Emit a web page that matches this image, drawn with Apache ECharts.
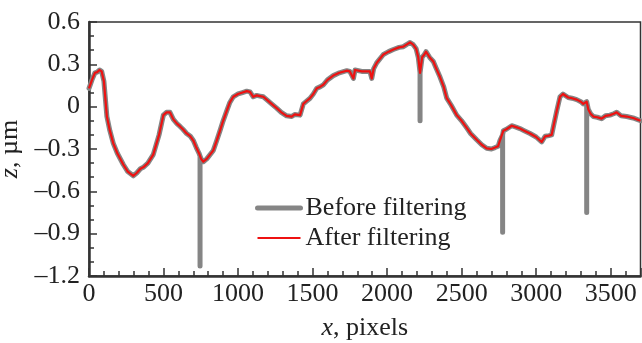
<!DOCTYPE html>
<html>
<head>
<meta charset="utf-8">
<script src="https://cdn.jsdelivr.net/npm/echarts@6/dist/echarts.min.js"></script>
<style>
  html, body { margin: 0; padding: 0; background: #fff; }
  #chart { width: 642px; height: 343px; }
</style>
</head>
<body>
<div id="chart"></div>
<script>
// profile: x in pixels, z in µm
const xs = [0, 20, 40, 55, 70, 85, 100, 120, 140, 163, 190, 230, 260, 297, 320, 345, 364, 395, 431, 470,
  499, 520, 543, 566, 590, 611, 630, 655, 680, 700, 720, 738, 752, 767, 790, 834, 857, 879, 900, 924,
  945, 968, 1000, 1030, 1058, 1080, 1102, 1125, 1147, 1170, 1192, 1225, 1259, 1290, 1326, 1360, 1380, 1393, 1416, 1438,
  1460, 1483, 1505, 1528, 1550, 1572, 1600, 1639, 1680, 1729, 1750, 1774, 1785, 1796, 1830, 1863, 1885, 1897, 1910, 1930,
  1975, 2010, 2042, 2080, 2109, 2130, 2154, 2175, 2195, 2209, 2221, 2235, 2250, 2261, 2285, 2310, 2330, 2355, 2380, 2400,
  2430, 2467, 2500, 2534, 2560, 2601, 2635, 2668, 2700, 2724, 2745, 2757, 2768, 2780, 2800, 2836, 2865, 2891, 2920, 2959,
  3000, 3037, 3060, 3085, 3104, 3120, 3138, 3160, 3180, 3193, 3215, 3240, 3272, 3300, 3316, 3339, 3350, 3365, 3384, 3410,
  3439, 3465, 3495, 3520, 3540, 3570, 3607, 3650, 3700];
const afterZ = [0.13, 0.19, 0.24, 0.245, 0.26, 0.25, 0.18, -0.07, -0.17, -0.26, -0.33, -0.41, -0.46, -0.49, -0.47, -0.44, -0.43, -0.40, -0.34, -0.2,
  -0.06, -0.04, -0.04, -0.09, -0.12, -0.14, -0.16, -0.19, -0.21, -0.24, -0.29, -0.33, -0.37, -0.39, -0.37, -0.31, -0.24, -0.17, -0.1, -0.03,
  0.03, 0.07, 0.09, 0.1, 0.11, 0.105, 0.07, 0.08, 0.075, 0.07, 0.05, 0.02, -0.01, -0.04, -0.065, -0.07, -0.055, -0.065, -0.06, 0.02,
  0.04, 0.06, 0.09, 0.13, 0.14, 0.155, 0.19, 0.22, 0.24, 0.255, 0.25, 0.2, 0.26, 0.27, 0.25, 0.25, 0.25, 0.2, 0.27, 0.31,
  0.37, 0.39, 0.405, 0.42, 0.425, 0.44, 0.455, 0.44, 0.41, 0.35, 0.24, 0.35, 0.37, 0.39, 0.35, 0.32, 0.27, 0.21, 0.14, 0.06,
  0.01, -0.06, -0.1, -0.15, -0.19, -0.235, -0.27, -0.295, -0.3, -0.29, -0.28, -0.24, -0.24, -0.17, -0.16, -0.135, -0.145, -0.155, -0.17, -0.19,
  -0.215, -0.25, -0.21, -0.205, -0.2, -0.12, -0.03, 0.07, 0.09, 0.095, 0.065, 0.06, 0.05, 0.035, 0.02, 0.035, -0.02, -0.05, -0.07, -0.075,
  -0.085, -0.065, -0.06, -0.05, -0.04, -0.065, -0.07, -0.08, -0.1];
// narrow outliers present only in the unfiltered profile
const spikeX = [745, 2221, 2775, 3339];
const spikeZ = [-1.13, -0.1, -0.89, -0.75];

const xTicks = [0, 500, 1000, 1500, 2000, 2500, 3000, 3500];
const zTicks = [-1.2, -0.9, -0.6, -0.3, 0, 0.3, 0.6];

const afterData = xs.map((x, i) => [x, afterZ[i]]);

// unfiltered = filtered curve with the spikes dropped in
const beforeData = [];
let k = 0;
for (let i = 0; i < xs.length; i++) {
  while (k < spikeX.length && spikeX[k] <= xs[i]) {
    let top = afterZ[i];
    if (i > 0 && spikeX[k] < xs[i]) {
      const t = (spikeX[k] - xs[i - 1]) / (xs[i] - xs[i - 1]);
      top = afterZ[i - 1] + t * (afterZ[i] - afterZ[i - 1]);
    }
    beforeData.push([spikeX[k], top], [spikeX[k], spikeZ[k]], [spikeX[k], top]);
    k++;
  }
  beforeData.push([xs[i], afterZ[i]]);
}

const font = "'Liberation Serif', 'Times New Roman', Times, serif";
const fs = 26;
const ink = '#222';
const grey = '#858585';
const red = '#ee1111';

const chart = echarts.init(document.getElementById('chart'));
chart.setOption({
  animation: false,
  grid: {
    left: 89, right: 1.5, top: 22, bottom: 67,
    outerBoundsMode: 'none', containLabel: false,
    show: true, borderColor: '#333', borderWidth: 1.5, backgroundColor: 'transparent'
  },
  legend: {
    orient: 'vertical',
    left: 250, top: 189,
    itemWidth: 43, itemHeight: 14, itemGap: 2,
    itemStyle: { opacity: 0 },
    textStyle: { fontFamily: font, fontSize: fs, color: ink, lineHeight: 28 },
    data: [
      { name: 'Before filtering', lineStyle: { color: grey, width: 5 } },
      { name: 'After filtering', lineStyle: { color: red, width: 2.2 } }
    ]
  },
  xAxis: {
    type: 'value',
    min: 0, max: 3700, interval: 500,
    name: '{i|x}, pixels',
    nameLocation: 'middle', nameGap: 39,
    nameTextStyle: {
      fontFamily: font, fontSize: fs, color: ink,
      rich: { i: { fontFamily: font, fontSize: fs, fontStyle: 'italic', color: ink } }
    },
    axisLine: { onZero: false, lineStyle: { color: '#333', width: 2.5 } },
    axisTick: { inside: true, length: 8, lineStyle: { color: '#333', width: 1.5 } },
    minorTick: { show: true, splitNumber: 5, length: 5, lineStyle: { color: '#333', width: 1.5 } },
    splitLine: { show: false },
    axisLabel: {
      fontFamily: font, fontSize: fs, color: ink, margin: 5, showMaxLabel: false,
      formatter: v => (xTicks.includes(v) ? String(v) : '')
    }
  },
  yAxis: {
    type: 'value',
    min: -1.2, max: 0.6, interval: 0.3,
    name: '{i|z}, µm',
    nameLocation: 'middle', nameGap: 57,
    nameTextStyle: {
      fontFamily: font, fontSize: fs, color: ink,
      rich: { i: { fontFamily: font, fontSize: fs, fontStyle: 'italic', color: ink } }
    },
    axisLine: { show: true, onZero: false, lineStyle: { color: '#333', width: 2.5 } },
    axisTick: { inside: true, length: 8, lineStyle: { color: '#333', width: 1.5 } },
    minorTick: { show: true, splitNumber: 3, length: 5, lineStyle: { color: '#333', width: 1.5 } },
    splitLine: { show: false },
    axisLabel: {
      fontFamily: font, fontSize: fs, color: ink, margin: 9,
      formatter: v => {
        const z = zTicks.find(t => Math.abs(t - v) < 1e-6);
        if (z === undefined) return '';
        if (z === 0) return '0';
        return (z < 0 ? '\u2013' : '') + Math.abs(z).toFixed(1);
      }
    }
  },
  series: [
    {
      name: 'Before filtering',
      type: 'line',
      data: beforeData,
      symbol: 'none',
      color: grey,
      lineStyle: { color: grey, width: 5, cap: 'round', join: 'round' }
    },
    {
      name: 'After filtering',
      type: 'line',
      data: afterData,
      symbol: 'none',
      color: red,
      lineStyle: { color: red, width: 2.2, join: 'round' }
    }
  ]
});
</script>
</body>
</html>
